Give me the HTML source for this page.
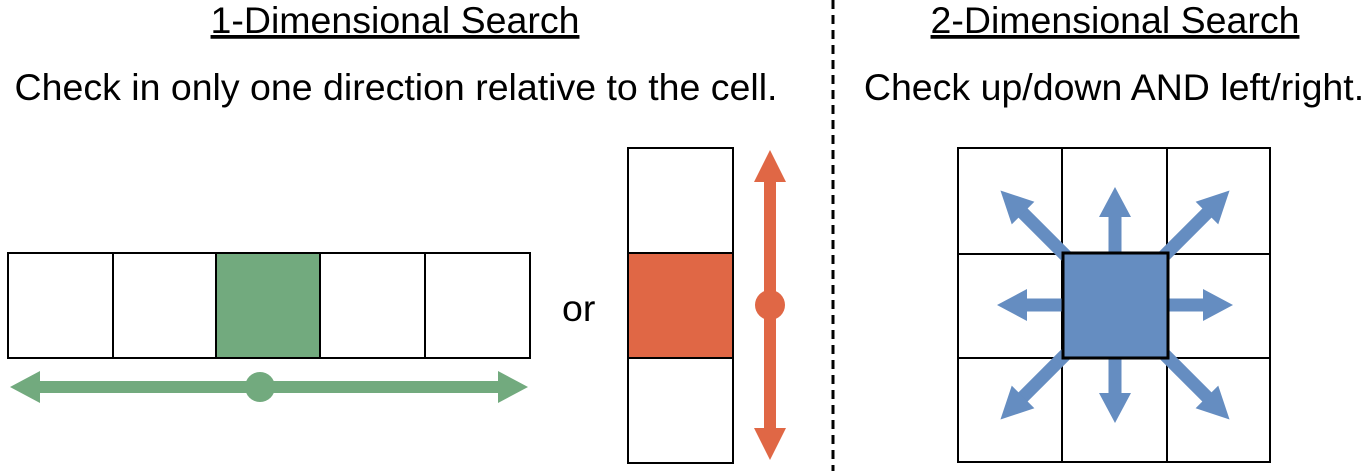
<!DOCTYPE html>
<html><head><style>body{margin:0;background:#fff}</style></head><body>
<svg width="1366" height="471" xmlns="http://www.w3.org/2000/svg" font-family="Liberation Sans, sans-serif">
<defs>
<g id="ar"><rect x="0" y="-6.5" width="90" height="13"/><polygon points="88,-16 118,0 88,16"/></g>
<g id="ad"><rect x="0" y="-6.5" width="132" height="13"/><polygon points="130,-16 162,0 130,16"/></g>
</defs>
<text x="395" y="33" font-size="37.5" text-anchor="middle" text-decoration="underline">1-Dimensional Search</text>
<text x="396" y="100" font-size="37.5" text-anchor="middle">Check in only one direction relative to the cell.</text>
<text x="1115" y="33" font-size="37.5" text-anchor="middle" text-decoration="underline">2-Dimensional Search</text>
<text x="1114" y="100" font-size="37.5" text-anchor="middle">Check up/down AND left/right.</text>
<line x1="833" y1="0" x2="833" y2="471" stroke="#000" stroke-width="3" stroke-dasharray="9,6"/>
<g stroke="#000" stroke-width="2" fill="#fff">
<rect x="8" y="253" width="105" height="105"/><rect x="113" y="253" width="103" height="105"/>
<rect x="216" y="253" width="104" height="105" fill="#72AA7E"/>
<rect x="320" y="253" width="105" height="105"/><rect x="425" y="253" width="105" height="105"/>
<rect x="628" y="148" width="105" height="105"/><rect x="628" y="253" width="105" height="105" fill="#E06745"/><rect x="628" y="358" width="105" height="105"/>
<rect x="958" y="148" width="104" height="106"/><rect x="1062" y="148" width="105" height="106"/><rect x="1167" y="148" width="103" height="106"/>
<rect x="958" y="254" width="104" height="104"/><rect x="1167" y="254" width="103" height="104"/>
<rect x="958" y="358" width="104" height="104"/><rect x="1062" y="358" width="105" height="104"/><rect x="1167" y="358" width="103" height="104"/>
</g>
<g fill="#72AA7E">
<rect x="38" y="381" width="462" height="12"/>
<polygon points="10,387 40,371 40,403"/><polygon points="528,387 498,371 498,403"/>
<circle cx="260" cy="387" r="15"/>
</g>
<g fill="#E06745">
<rect x="764" y="178" width="12" height="254"/>
<polygon points="770,150 754,182 786,182"/><polygon points="770,460 754,428 786,428"/>
<circle cx="770" cy="305" r="15"/>
</g>
<text x="562" y="321" font-size="37.5">or</text>
<g fill="#658DC1" transform="translate(1115,305)">
<use href="#ar"/><use href="#ar" transform="rotate(90)"/><use href="#ar" transform="rotate(180)"/><use href="#ar" transform="rotate(270)"/>
<use href="#ad" transform="rotate(45)"/><use href="#ad" transform="rotate(135)"/><use href="#ad" transform="rotate(225)"/><use href="#ad" transform="rotate(315)"/>
</g>
<rect x="1063" y="253" width="105" height="105" fill="#658DC1" stroke="#000" stroke-width="3"/>
</svg>
</body></html>
